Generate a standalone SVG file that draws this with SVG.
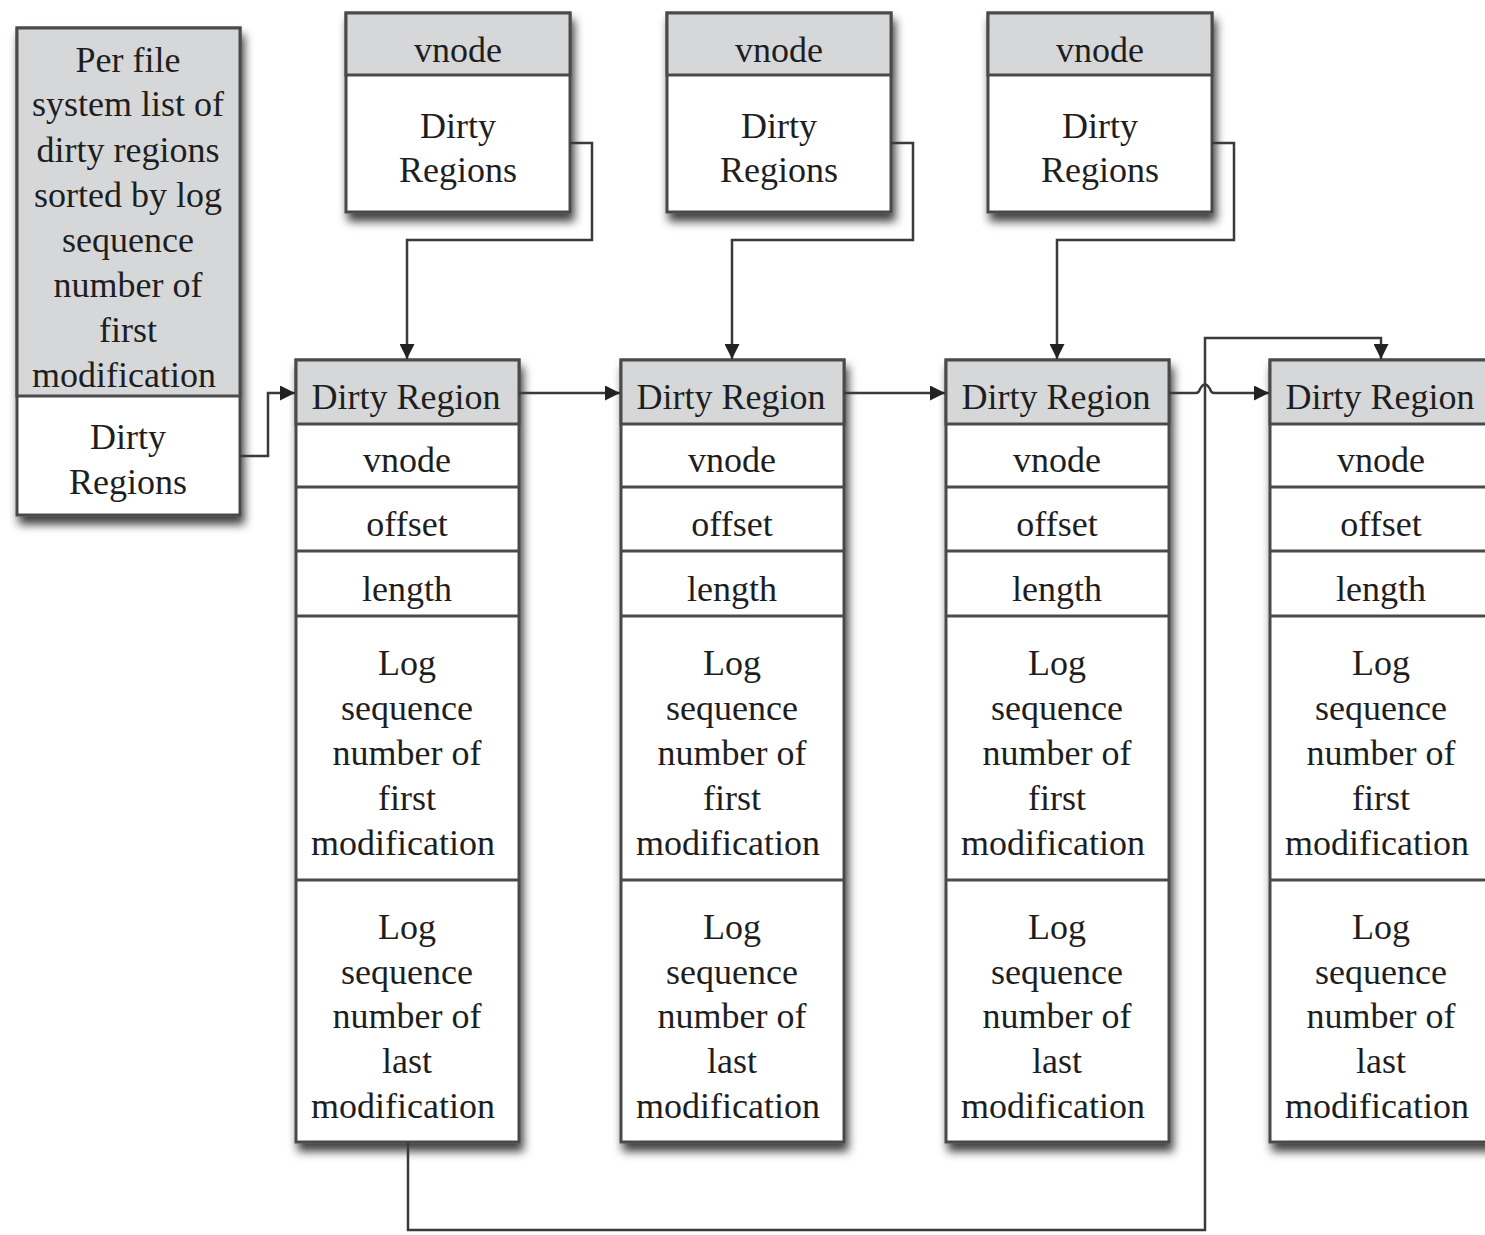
<svg xmlns="http://www.w3.org/2000/svg" width="1485" height="1235" viewBox="0 0 1485 1235">
<style>
.t{font-family:"Liberation Serif","Times New Roman",serif;font-size:36px;fill:#1e1e1e;text-anchor:middle;dominant-baseline:central}
.box{fill:#fff;stroke:#4a4a4a;stroke-width:3}
.hd{fill:#d5d7d9;stroke:#4a4a4a;stroke-width:3}
.ln{stroke:#4a4a4a;stroke-width:3}
.c{fill:none;stroke:#3a3a3a;stroke-width:2.5}
</style>
<defs>
<filter id="sh" x="-10%" y="-10%" width="130%" height="130%">
<feDropShadow dx="3" dy="8" stdDeviation="5" flood-color="#000" flood-opacity="0.75"/>
</filter>
<marker id="ar" viewBox="0 0 10 10" refX="10" refY="5" markerWidth="6" markerHeight="6" orient="auto" markerUnits="strokeWidth">
<path d="M0,0 L10,5 L0,10 z" fill="#222"/>
</marker>
</defs>

<g id="fs-list">
<rect class="box" x="17" y="28" width="223" height="487" filter="url(#sh)"/>
<rect class="hd" x="17" y="28" width="223" height="368"/>
<text class="t" x="128" y="60">Per file</text>
<text class="t" x="128" y="104">system list of</text>
<text class="t" x="128" y="150">dirty regions</text>
<text class="t" x="128" y="195">sorted by log</text>
<text class="t" x="128" y="240">sequence</text>
<text class="t" x="128" y="285">number of</text>
<text class="t" x="128" y="330">first</text>
<text class="t" x="124" y="375">modification</text>
<text class="t" x="128" y="437">Dirty</text>
<text class="t" x="128" y="482">Regions</text>
</g>

<g id="vnode1">
<rect class="box" x="346" y="13" width="224" height="199" filter="url(#sh)"/>
<rect class="hd" x="346" y="13" width="224" height="62"/>
<text class="t" x="458" y="50">vnode</text>
<text class="t" x="458" y="126">Dirty</text>
<text class="t" x="458" y="170">Regions</text>
</g>
<g id="vnode2">
<rect class="box" x="667" y="13" width="224" height="199" filter="url(#sh)"/>
<rect class="hd" x="667" y="13" width="224" height="62"/>
<text class="t" x="779" y="50">vnode</text>
<text class="t" x="779" y="126">Dirty</text>
<text class="t" x="779" y="170">Regions</text>
</g>
<g id="vnode3">
<rect class="box" x="988" y="13" width="224" height="199" filter="url(#sh)"/>
<rect class="hd" x="988" y="13" width="224" height="62"/>
<text class="t" x="1100" y="50">vnode</text>
<text class="t" x="1100" y="126">Dirty</text>
<text class="t" x="1100" y="170">Regions</text>
</g>

<g id="dr1">
<rect class="box" x="296" y="360" width="223" height="782" filter="url(#sh)"/>
<rect class="hd" x="296" y="360" width="223" height="64"/>
<line class="ln" x1="296" y1="487" x2="519" y2="487"/>
<line class="ln" x1="296" y1="551" x2="519" y2="551"/>
<line class="ln" x1="296" y1="616" x2="519" y2="616"/>
<line class="ln" x1="296" y1="880" x2="519" y2="880"/>
<text class="t" x="406" y="397">Dirty Region</text>
<text class="t" x="407" y="460">vnode</text>
<text class="t" x="407" y="524">offset</text>
<text class="t" x="407" y="589">length</text>
<text class="t" x="407" y="663">Log</text>
<text class="t" x="407" y="708">sequence</text>
<text class="t" x="407" y="753">number of</text>
<text class="t" x="407" y="798">first</text>
<text class="t" x="403" y="843">modification</text>
<text class="t" x="407" y="927">Log</text>
<text class="t" x="407" y="972">sequence</text>
<text class="t" x="407" y="1016">number of</text>
<text class="t" x="407" y="1061">last</text>
<text class="t" x="403" y="1106">modification</text>
</g>
<g id="dr2">
<rect class="box" x="621" y="360" width="223" height="782" filter="url(#sh)"/>
<rect class="hd" x="621" y="360" width="223" height="64"/>
<line class="ln" x1="621" y1="487" x2="844" y2="487"/>
<line class="ln" x1="621" y1="551" x2="844" y2="551"/>
<line class="ln" x1="621" y1="616" x2="844" y2="616"/>
<line class="ln" x1="621" y1="880" x2="844" y2="880"/>
<text class="t" x="731" y="397">Dirty Region</text>
<text class="t" x="732" y="460">vnode</text>
<text class="t" x="732" y="524">offset</text>
<text class="t" x="732" y="589">length</text>
<text class="t" x="732" y="663">Log</text>
<text class="t" x="732" y="708">sequence</text>
<text class="t" x="732" y="753">number of</text>
<text class="t" x="732" y="798">first</text>
<text class="t" x="728" y="843">modification</text>
<text class="t" x="732" y="927">Log</text>
<text class="t" x="732" y="972">sequence</text>
<text class="t" x="732" y="1016">number of</text>
<text class="t" x="732" y="1061">last</text>
<text class="t" x="728" y="1106">modification</text>
</g>
<g id="dr3">
<rect class="box" x="946" y="360" width="223" height="782" filter="url(#sh)"/>
<rect class="hd" x="946" y="360" width="223" height="64"/>
<line class="ln" x1="946" y1="487" x2="1169" y2="487"/>
<line class="ln" x1="946" y1="551" x2="1169" y2="551"/>
<line class="ln" x1="946" y1="616" x2="1169" y2="616"/>
<line class="ln" x1="946" y1="880" x2="1169" y2="880"/>
<text class="t" x="1056" y="397">Dirty Region</text>
<text class="t" x="1057" y="460">vnode</text>
<text class="t" x="1057" y="524">offset</text>
<text class="t" x="1057" y="589">length</text>
<text class="t" x="1057" y="663">Log</text>
<text class="t" x="1057" y="708">sequence</text>
<text class="t" x="1057" y="753">number of</text>
<text class="t" x="1057" y="798">first</text>
<text class="t" x="1053" y="843">modification</text>
<text class="t" x="1057" y="927">Log</text>
<text class="t" x="1057" y="972">sequence</text>
<text class="t" x="1057" y="1016">number of</text>
<text class="t" x="1057" y="1061">last</text>
<text class="t" x="1053" y="1106">modification</text>
</g>
<g id="dr4">
<rect class="box" x="1270" y="360" width="230" height="782" filter="url(#sh)"/>
<rect class="hd" x="1270" y="360" width="230" height="64"/>
<line class="ln" x1="1270" y1="487" x2="1500" y2="487"/>
<line class="ln" x1="1270" y1="551" x2="1500" y2="551"/>
<line class="ln" x1="1270" y1="616" x2="1500" y2="616"/>
<line class="ln" x1="1270" y1="880" x2="1500" y2="880"/>
<text class="t" x="1380" y="397">Dirty Region</text>
<text class="t" x="1381" y="460">vnode</text>
<text class="t" x="1381" y="524">offset</text>
<text class="t" x="1381" y="589">length</text>
<text class="t" x="1381" y="663">Log</text>
<text class="t" x="1381" y="708">sequence</text>
<text class="t" x="1381" y="753">number of</text>
<text class="t" x="1381" y="798">first</text>
<text class="t" x="1377" y="843">modification</text>
<text class="t" x="1381" y="927">Log</text>
<text class="t" x="1381" y="972">sequence</text>
<text class="t" x="1381" y="1016">number of</text>
<text class="t" x="1381" y="1061">last</text>
<text class="t" x="1377" y="1106">modification</text>
</g>

<g id="connectors">
<path class="c" d="M240,456 H268 V393 H295" marker-end="url(#ar)"/>
<path class="c" d="M570,143 H592 V240 H407 V359" marker-end="url(#ar)"/>
<path class="c" d="M891,143 H913 V240 H732 V359" marker-end="url(#ar)"/>
<path class="c" d="M1212,143 H1234 V240 H1057 V359" marker-end="url(#ar)"/>
<path class="c" d="M519,393 H620" marker-end="url(#ar)"/>
<path class="c" d="M844,393 H945" marker-end="url(#ar)"/>
<path class="c" d="M1169,393 H1196 Q1199,393 1200,389 Q1205,380 1210,389 Q1211,393 1214,393 H1269" marker-end="url(#ar)"/>
<path class="c" d="M408,1142 V1230 H1205 V338 H1381 V359" marker-end="url(#ar)"/>
</g>
</svg>
